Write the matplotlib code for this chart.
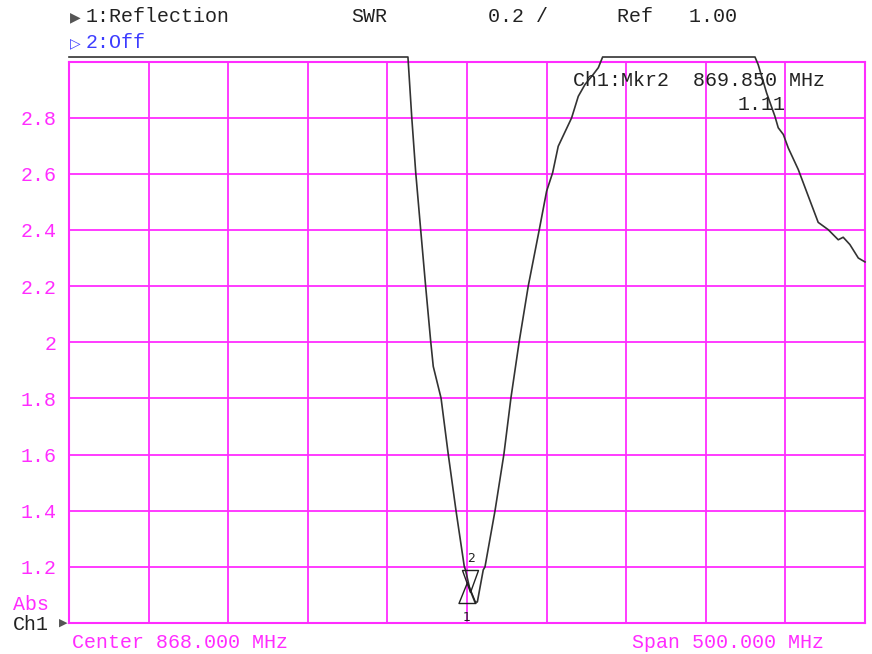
import numpy as np
import matplotlib
matplotlib.use("Agg")
import matplotlib.pyplot as plt
from matplotlib.path import Path

# 画像サイズ (px)
W, H = 872, 654

# 表示設定
center_mhz = 868.0
span_mhz = 500.0
swr_bottom = 1.0
swr_per_div = 0.2
n_div_x = 10
n_div_y = 10

# トレースデータ (周波数 MHz, SWR) - 画面から読み取り
freq = [618.0, 830.9, 833.3, 835.8, 838.9, 842.0, 845.2, 846.8, 851.7, 856.2,
        861.1, 866.3, 867.0, 869.9, 873.0, 874.5, 878.2, 879.3, 885.6, 891.2,
        895.6, 900.8, 906.5, 913.4, 918.0, 921.8, 925.3, 933.7, 937.9, 942.1,
        947.3, 950.5, 953.2, 1048.9, 1050.9, 1056.2, 1061.4, 1063.5, 1066.7, 1069.8,
        1076.1, 1082.4, 1088.6, 1094.9, 1101.2, 1104.3, 1108.5, 1113.8, 1118.0]
swr = [3.016, 3.016, 2.801, 2.604, 2.401, 2.201, 2.003, 1.914, 1.801, 1.602,
       1.400, 1.201, 1.190, 1.118, 1.074, 1.075, 1.189, 1.200, 1.400, 1.602,
       1.802, 2.003, 2.201, 2.401, 2.538, 2.604, 2.698, 2.799, 2.876, 2.918,
       2.954, 2.978, 3.016, 3.016, 2.989, 2.888, 2.805, 2.764, 2.740, 2.692,
       2.615, 2.520, 2.427, 2.401, 2.365, 2.374, 2.348, 2.300, 2.286]

# マーカー
mkr_freq = [868.0, 869.85]
mkr_swr = [1.145, 1.11]
mkr_names = ["1", "2"]

ytick_vals = [1.2, 1.4, 1.6, 1.8, 2.0, 2.2, 2.4, 2.6, 2.8]
ytick_labels = ["1.2", "1.4", "1.6", "1.8", "2", "2.2", "2.4", "2.6", "2.8"]

MAG = "#ff2cff"
BLUE = "#3c3cff"
INK = "#222222"
MONO = ["Liberation Mono", "DejaVu Sans Mono"]
FS = 14.4

fig = plt.figure(figsize=(W / 100, H / 100), dpi=100)
fig.patch.set_facecolor("white")

x0, x1, y_top, y_bot = 69, 865, 61.5, 623
ax = fig.add_axes([x0 / W, 1 - y_bot / H, (x1 - x0) / W, (y_bot - y_top) / H])

f_start = center_mhz - span_mhz / 2
f_stop = center_mhz + span_mhz / 2
ax.set_xlim(f_start, f_stop)
ax.set_ylim(swr_bottom, swr_bottom + swr_per_div * n_div_y)

ax.set_xticks(np.linspace(f_start, f_stop, n_div_x + 1))
ax.set_xticklabels([])
ax.set_yticks(ytick_vals, ytick_labels)
ax.tick_params(length=0, pad=9, labelsize=FS, labelcolor=MAG)
for lab in ax.get_yticklabels():
    lab.set_fontfamily(MONO)
ax.grid(True, color=MAG, lw=1.3)
for sp in ax.spines.values():
    sp.set_color(MAG)
    sp.set_linewidth(1.5)

# トレース
ax.plot(freq, swr, color="#333333", lw=1.2, clip_on=False, zorder=5)

# マーカー記号（頂点がデータ点）
tri_down = Path([(0, 0), (-8, 22), (8, 22), (0, 0)])
tri_up = Path([(0, 0), (-8.5, -21), (8.5, -21), (0, 0)])
ax.plot(mkr_freq[1], mkr_swr[1], marker=tri_down, ms=44 * 0.72,
        mfc="none", mec=INK, mew=1.0, zorder=6, clip_on=False)
ax.plot(mkr_freq[0], mkr_swr[0], marker=tri_up, ms=42 * 0.72,
        mfc="none", mec=INK, mew=1.0, zorder=6, clip_on=False)
ax.annotate(mkr_names[1], (mkr_freq[1], mkr_swr[1]), xytext=(1, 24),
            textcoords="offset points", ha="center", va="center",
            fontsize=9, color=INK)
ax.annotate(mkr_names[0], (mkr_freq[0], mkr_swr[0]), xytext=(0, -25),
            textcoords="offset points", ha="center", va="center",
            fontsize=9, color=INK)


def put(x, y, s, color=INK, size=FS, family=MONO):
    fig.text(x / W, 1 - y / H, s, color=color, fontsize=size,
             family=family, ha="left", va="center")


# ヘッダー
put(70, 17, "▶", color="#555555", size=10, family=["DejaVu Sans"])
put(86, 17, "1:Reflection")
put(351, 17, "SWR")
put(488, 17, "0.2 /")
put(617, 17, "Ref   1.00")
put(70, 43, "▷", color=BLUE, size=10, family=["DejaVu Sans"])
put(86, 43, "2:Off", color=BLUE)

# マーカー読み値
put(573, 80, "Ch1:Mkr2  869.850 MHz")
put(738, 104, "1.11")

# 左下・下部
put(13, 604, "Abs", color=MAG)
put(13, 625, "Ch1")
put(59, 623, "▶", color="#555555", size=8, family=["DejaVu Sans"])
put(72, 643, "Center 868.000 MHz", color=MAG)
put(632, 643, "Span 500.000 MHz", color=MAG)

fig.savefig("out.png", dpi=100)
